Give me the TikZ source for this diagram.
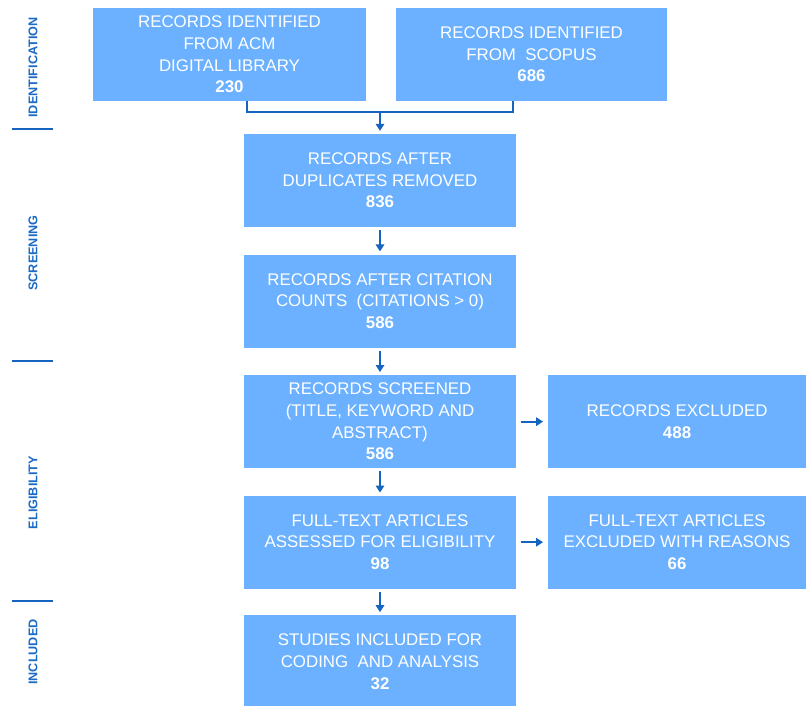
\documentclass[tikz,border=0pt]{standalone}
\usepackage{fontspec}
\setmainfont{Liberation Sans}
\usetikzlibrary{positioning,arrows.meta}

\definecolor{boxblue}{HTML}{6BB1FF}
\definecolor{lineblue}{HTML}{1565C0}
\definecolor{phaseblue}{HTML}{1B6AC6}

\begin{document}
\begin{tikzpicture}[
  box/.style={fill=boxblue, text=white, align=center, minimum width=6.8cm, minimum height=2.325cm,
    inner sep=0pt, font=\fontsize{12}{15.4}\selectfont},
  sidebox/.style={box, minimum width=6.475cm},
  link/.style={draw=lineblue, line width=1.3pt},
  arrow/.style={link, -{Triangle[length=5pt,width=6pt]}, shorten <=2pt, shorten >=2pt},
  phase/.style={text=phaseblue, rotate=90, font=\fontsize{9}{10}\selectfont\bfseries},
  node distance=0.675cm
]

\useasboundingbox (0,0) rectangle (20.15,-17.65);

\node[box, minimum width=6.825cm] (acm) at (5.7375,-1.3625) {RECORDS IDENTIFIED\\FROM ACM\\DIGITAL LIBRARY\\\textbf{230}};
\node[box, minimum width=6.775cm] (scopus) at (13.2875,-1.3625) {RECORDS IDENTIFIED\\FROM\ \ SCOPUS\\\textbf{686}};

\node[box] (dup) at (9.5,-4.5125) {RECORDS AFTER\\DUPLICATES REMOVED\\\textbf{836}};
\node[box, below=of dup] (cit) {RECORDS AFTER CITATION\\COUNTS\ \ (CITATIONS > 0)\\\textbf{586}};
\node[box, below=of cit] (scr) {RECORDS SCREENED\\(TITLE, KEYWORD AND\\ABSTRACT)\\\textbf{586}};
\node[box, below=of scr] (full) {FULL-TEXT ARTICLES\\ASSESSED FOR ELIGIBILITY\\\textbf{98}};
\node[box, below=0.65cm of full] (inc) {STUDIES INCLUDED FOR\\CODING\ \ AND ANALYSIS\\\textbf{32}};

\node[sidebox, right=0.775cm of scr] (exc) {RECORDS EXCLUDED\\\textbf{488}};
\node[sidebox, right=0.775cm of full] (fexc) {FULL-TEXT ARTICLES\\EXCLUDED WITH REASONS\\\textbf{66}};

\coordinate (jl) at ([xshift=0.075cm]dup.north west |- acm.south);
\coordinate (jr) at ([xshift=-0.075cm]dup.north east |- scopus.south);
\coordinate (jm) at (9.5,-2.8);
\draw[link] (jl) |- (jm) -| (jr);
\draw[arrow, shorten <=0pt] (jm) -- (dup);

\draw[arrow] (dup) -- (cit);
\draw[arrow] (cit) -- (scr);
\draw[arrow] (scr) -- (full);
\draw[arrow] (full) -- (inc);
\draw[arrow, shorten <=3pt, shorten >=3pt] (scr) -- (exc);
\draw[arrow, shorten <=3pt, shorten >=3pt] (full) -- (fexc);

\node[phase] (ident) at (0.825,-1.6875) {IDENTIFICATION};
\node[phase] (screen) at (0.825,-6.325) {SCREENING};
\node[phase] (elig) at (0.825,-12.3125) {ELIGIBILITY};
\node[phase] (incl) at (0.825,-16.3) {INCLUDED};

\draw[link] (0.3,-3.225) -- (1.325,-3.225);
\draw[link] (0.3,-9.025) -- (1.325,-9.025);
\draw[link] (0.3,-15.025) -- (1.325,-15.025);

\end{tikzpicture}
\end{document}
